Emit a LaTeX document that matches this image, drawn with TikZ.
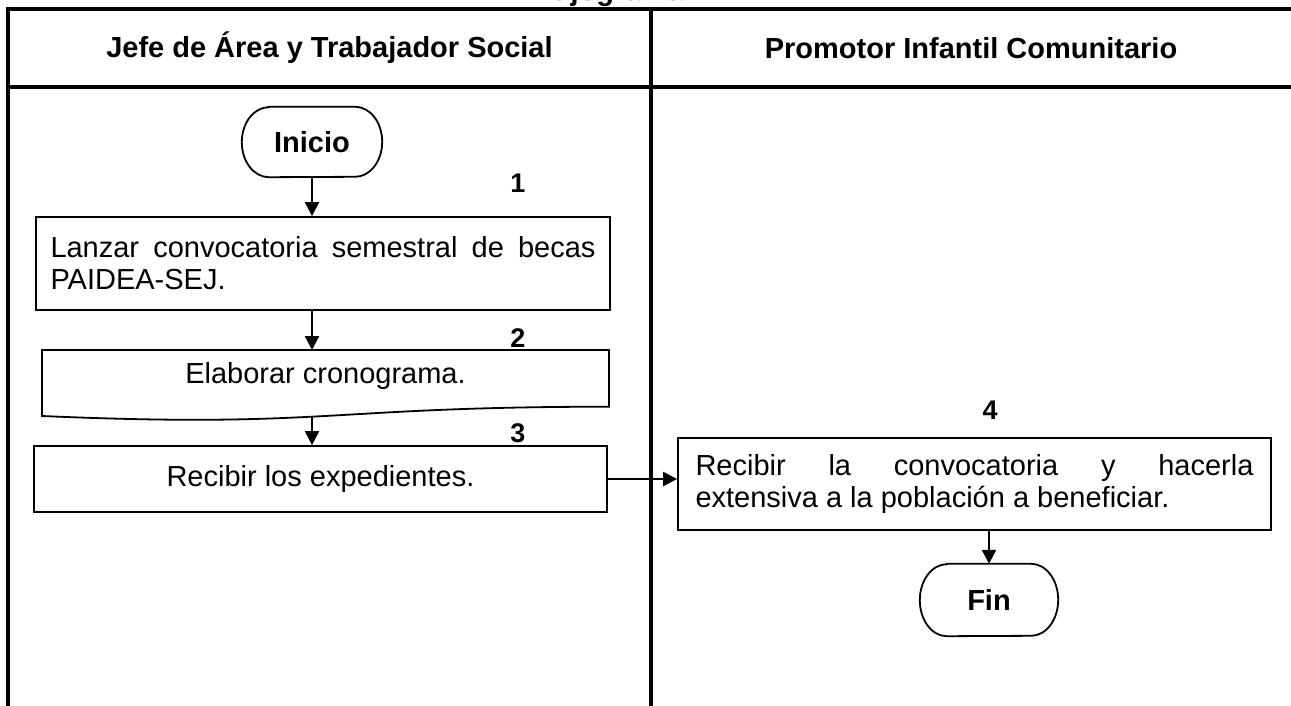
\documentclass[tikz,border=0pt]{standalone}
\usepackage{fontspec}
\setmainfont{Liberation Sans}
\usetikzlibrary{arrows.meta,calc}
\newcommand\termshape[3]{%
  \draw[boxline] ($(#1.north west)+(#2,0)$) -- ($(#1.north east)+(-#2,0)$)
    arc[start angle=-90,end angle=90,x radius=#2,y radius=#3]
    -- ($(#1.south west)+(#2,0)$)
    arc[start angle=90,end angle=270,x radius=#2,y radius=#3] -- cycle;}
\begin{document}
\begin{tikzpicture}[x=1pt,y=-1pt,
  txt/.style={font=\fontsize{29}{32}\selectfont},
  bold/.style={font=\bfseries\fontsize{29}{32}\selectfont},
  numlab/.style={font=\bfseries\fontsize{27}{30}\selectfont},
  frame/.style={line width=4pt},
  boxline/.style={line width=1.8pt},
  procbox/.style={txt, draw, boxline, inner sep=0pt},
  flow/.style={line width=2.4pt, -{Triangle[length=14pt,width=14pt]}},
  ]
\useasboundingbox (0,0) rectangle (1291,706);
% cut-off title
\node[bold, anchor=base west, inner sep=0pt] (title) at (527,0.5) {Flujograma};
% table frame
\coordinate (tl) at (8,9);
\coordinate (tr) at (1295,9);
\coordinate (hl) at (8,87);
\coordinate (hr) at (1295,87);
\coordinate (bl) at (8,710);
\coordinate (mt) at (651,9);
\coordinate (mb) at (651,710);
\draw[frame] (tr) -- (tl) -- (bl);
\draw[frame] (hl) -- (hr);
\draw[frame] (mt) -- (mb);
% headers
\node[bold] (h1) at (329.5,48) {Jefe de Área y Trabajador Social};
\node[bold] (h2) at (971,48) {Promotor Infantil Comunitario};
% start
\node[bold, minimum width=140, minimum height=70, inner sep=0pt] (ini) at (312,142) {Inicio};
\termshape{ini}{27}{35}
\node[numlab] (n1) at (518,183) {1};
% box 1
\node[procbox, minimum width=574, minimum height=93, text width=545, align=justify] (b1) at (323,263.5)
  {Lanzar convocatoria semestral de becas\linebreak PAIDEA-SEJ.};
\node[numlab] (n2) at (518,338) {2};
% box 2 (document)
\node[txt, inner sep=0pt] (b2) at (325.5,376) {Elaborar cronograma.};
\draw[boxline] (42,350) -- (609,350) -- (609,406.7)
  .. controls (325.5,406.7) and (325.5,428.3) .. (42,416) -- cycle;
\coordinate (b2top) at (312,350);
\coordinate (b2bot) at (312,417);
\node[numlab] (n3) at (518,433) {3};
% box 3
\node[procbox, minimum width=573, minimum height=66] (b3) at (320.5,479) {Recibir los expedientes.};
% box 4
\node[numlab] (n4) at (990,410) {4};
\node[procbox, minimum width=593, minimum height=92, text width=558, align=justify] (b4) at (974.5,484)
  {Recibir la convocatoria y hacerla\linebreak extensiva a la población a beneficiar.};
% end
\node[bold, minimum width=138, minimum height=72, inner sep=0pt] (fin) at (989,600) {Fin};
\termshape{fin}{27}{36}
% connectors
\draw[flow] (ini.south) -- (ini.south |- b1.north);
\draw[flow] (b1.south -| b2top) -- (b2top);
\draw[flow] (b2bot) -- (b2bot |- b3.north);
\draw[flow] (b3.east) -- (b3.east -| b4.west);
\draw[flow] (fin.north |- b4.south) -- (fin.north);
\end{tikzpicture}
\end{document}
